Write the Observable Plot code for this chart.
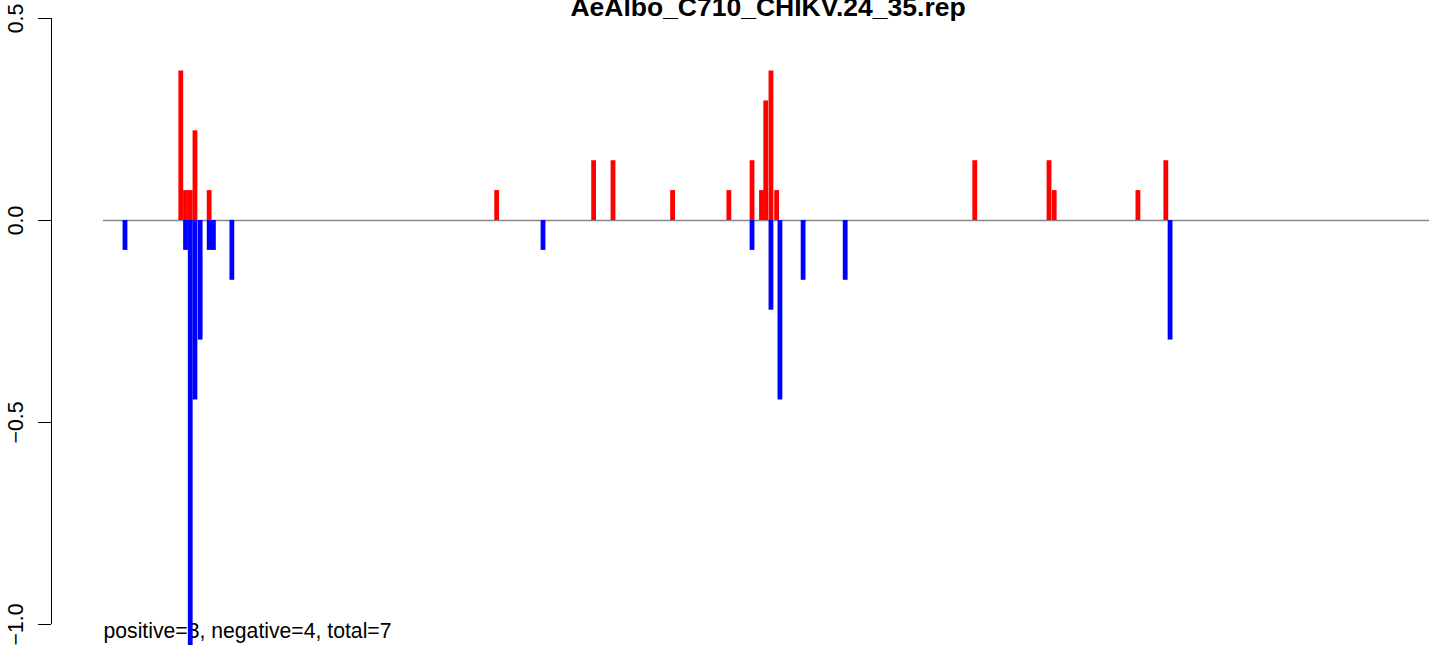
<!DOCTYPE html>
<html>
<head>
<meta charset="utf-8">
<script src="https://cdn.jsdelivr.net/npm/d3@7"></script>
<script src="https://cdn.jsdelivr.net/npm/@observablehq/plot@0.6"></script>
<style>
  html, body { margin: 0; padding: 0; background: white; overflow: hidden; }
</style>
</head>
<body>
<div id="chart"></div>
<script>
const title = "AeAlbo_C710_CHIKV.24_35.rep";
const summary = "positive=3, negative=4, total=7";

// positive (red) bars: position, value
const positivePos = [28.0, 29.0, 30.0, 31.0, 34.0, 94.8, 115.3, 119.4, 132.0, 143.9, 148.8, 150.8, 151.7, 152.8, 154.0, 195.9, 211.6, 212.7, 230.4, 236.3];
const positiveVal = [0.370, 0.074, 0.074, 0.222, 0.074, 0.074, 0.148, 0.148, 0.074, 0.074, 0.148, 0.074, 0.296, 0.370, 0.074, 0.148, 0.148, 0.074, 0.074, 0.148];

// negative (blue) bars: position, value
const negativePos = [16.2, 29.0, 30.0, 31.0, 32.1, 34.0, 34.9, 38.8, 104.6, 148.8, 152.8, 154.7, 159.6, 168.5, 237.2];
const negativeVal = [-0.074, -0.074, -1.11, -0.444, -0.296, -0.074, -0.074, -0.148, -0.074, -0.074, -0.222, -0.444, -0.148, -0.148, -0.296];

const yTicks = [-1.0, -0.5, 0.0, 0.5];
const xDomain = [0.66, 292.06];
const zeroLineRange = [11.65, 292.06];

const pos = positivePos.map((p, i) => ({pos: p, val: positiveVal[i]}));
const neg = negativePos.map((p, i) => ({pos: p, val: negativeVal[i]}));
const fmt = d3.format(".1f");
const font = "'Liberation Sans', Arial, Helvetica, sans-serif";

const chart = Plot.plot({
  width: 1429,
  height: 645,
  marginLeft: 51,
  marginRight: 0,
  marginTop: 18,
  marginBottom: 21,
  style: {fontFamily: font, background: "white", color: "black"},
  x: {domain: xDomain, axis: null},
  y: {domain: [-1, 0.5]},
  marks: [
    Plot.text([summary], {text: d => d, frameAnchor: "bottom-left", dx: 52, dy: 13, lineAnchor: "bottom", textAnchor: "start", fontSize: 21.2, fill: "black"}),
    Plot.ruleY([0], {x1: zeroLineRange[0], x2: zeroLineRange[1], stroke: "#888888", strokeWidth: 1.3}),
    Plot.ruleX(pos, {x: "pos", y1: 0, y2: "val", stroke: "#ff0000", strokeWidth: 4.8}),
    Plot.ruleX(neg, {x: "pos", y1: 0, y2: "val", stroke: "#0000ff", strokeWidth: 4.8}),
    Plot.ruleX([xDomain[0]], {x: d => d, y1: d3.min(yTicks), y2: d3.max(yTicks), stroke: "black", strokeWidth: 1}),
    Plot.axisY({ticks: yTicks, tickSize: 13, tickFormat: () => "", label: null, stroke: "black"}),
    Plot.text(yTicks, {y: d => d, text: d => fmt(d), frameAnchor: "left", dx: -29, rotate: -90, textAnchor: "middle", lineAnchor: "bottom", fontSize: 21.2, fill: "black"}),
    Plot.text([title], {text: d => d, frameAnchor: "top", dx: 27.5, dy: -3, lineAnchor: "bottom", textAnchor: "middle", fontSize: 26.5, fontWeight: "bold", fill: "black"})
  ]
});
document.getElementById("chart").appendChild(chart);
</script>
</body>
</html>
